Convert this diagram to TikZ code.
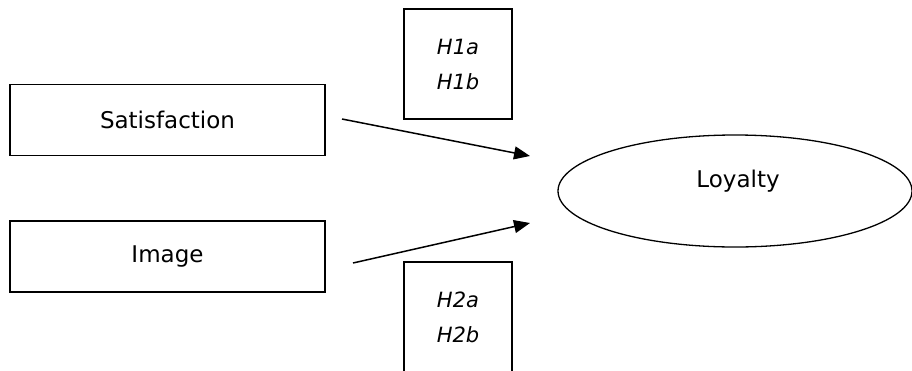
\documentclass[tikz,border=0pt]{standalone}
\usepackage{fontspec}
\setmainfont{DejaVu Sans}
\usetikzlibrary{shapes.geometric,arrows.meta}
\begin{document}
\begin{tikzpicture}[x=1pt,y=-1pt,
  every node/.style={font=\fontsize{23}{27}\selectfont},
  var/.style={draw,line width=1.8pt,minimum width=315pt,minimum height=71pt,inner sep=0pt},
  hyp/.style={draw,line width=1.3pt,minimum width=108pt,minimum height=110pt,inner sep=0pt,align=center,font=\fontsize{21}{35}\selectfont\itshape},
  lat/.style={draw,line width=1.3pt,ellipse,minimum width=354pt,minimum height=112pt,inner sep=0pt},
  arr/.style={line width=1.5pt,-{Triangle[length=16pt,width=13pt]}}]
\useasboundingbox (0,0) rectangle (912,370);
\node[var] (sat) at (167.5,120) {Satisfaction};
\node[var] (img) at (167.5,256.5) {Image};
\node[hyp] (h1) at (458,64) {H1a\\H1b};
\node[hyp] (h2) at (458,317) {H2a\\H2b};
\node[lat] (loy) at (735,191) {};
\node at (738,181) {Loyalty};
\coordinate (s1) at (342,119);
\coordinate (t1) at (530,156);
\coordinate (s2) at (353,263);
\coordinate (t2) at (530,223);
\draw[arr] (s1) -- (t1);
\draw[arr] (s2) -- (t2);
\end{tikzpicture}
\end{document}
